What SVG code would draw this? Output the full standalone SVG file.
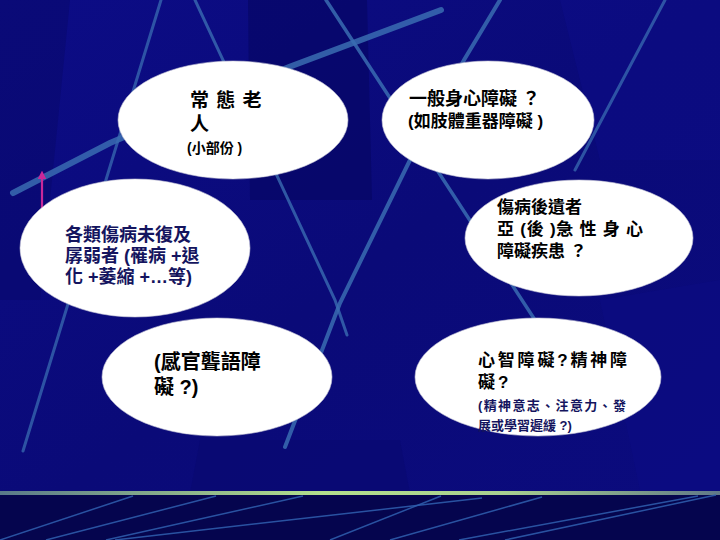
<svg xmlns="http://www.w3.org/2000/svg" width="720" height="540" viewBox="0 0 720 540">
<defs>
<linearGradient id="bg" x1="0" y1="0" x2="1" y2="1">
<stop offset="0" stop-color="#0c0c86"/>
<stop offset="0.5" stop-color="#0a0a78"/>
<stop offset="1" stop-color="#0b0b7e"/>
</linearGradient>
<linearGradient id="bar" x1="0" y1="0" x2="1" y2="0">
<stop offset="0" stop-color="#5a7a8a"/>
<stop offset="0.45" stop-color="#b4e08c"/>
<stop offset="0.7" stop-color="#a8d090"/>
<stop offset="1" stop-color="#607888"/>
</linearGradient>
<marker id="arr" viewBox="0 0 10 10" refX="5" refY="5" markerWidth="4" markerHeight="4" orient="auto">
<path d="M0,0 L10,5 L0,10 z" fill="#c8289a"/>
</marker>
<style>
.node ellipse{fill:#ffffff;stroke:#c8c8d8;stroke-width:0.6}
.t{font-family:"Liberation Sans","Noto Sans CJK TC",sans-serif;font-weight:bold;fill:#000000}
.n{fill:#14145e}
.s{stroke:#3a6cb2;fill:none;stroke-linecap:round}
.b{stroke:#3060b0;fill:none;stroke-width:1.5;opacity:0.85}
</style>
</defs>
<rect width="720" height="540" fill="url(#bg)"/>
<polygon points="248,0 367,0 372,200 250,200" fill="#05055e" opacity="0.55"/>
<polygon points="0,0 70,0 40,300 0,300" fill="#08086a" opacity="0.5"/>
<polygon points="560,0 720,0 720,160 600,160" fill="#0e0e90" opacity="0.35"/>
<polygon points="600,300 720,280 720,490 640,490" fill="#0c0c88" opacity="0.4"/>
<polygon points="200,440 400,440 410,493 190,493" fill="#08086c" opacity="0.4"/>
<g id="streaks">
<line class="s" x1="161" y1="0" x2="23" y2="451" stroke-width="3" opacity="0.75"/>
<polyline class="s" points="195,0 335,300 347,335" stroke-width="3" opacity="0.8"/>
<polyline class="s" points="441,10 289,67 110,143 13,193" stroke-width="6" opacity="0.85"/>
<line class="s" x1="326" y1="0" x2="535" y2="320" stroke-width="3.5" opacity="0.85"/>
<polyline class="s" points="500,0 464,60 410,160 340,303 285,447" stroke-width="4" opacity="0.85"/>
<line class="s" x1="665" y1="0" x2="575" y2="170" stroke-width="3" opacity="0.75"/>
</g>
<rect x="0" y="495" width="720" height="45" fill="#05054e"/>
<rect x="0" y="491" width="720" height="4" fill="url(#bar)"/>
<g id="bottom-lines">
<line class="b" x1="0" y1="540" x2="133" y2="496"/>
<line class="b" x1="46" y1="540" x2="216" y2="496"/>
<line class="b" x1="106" y1="540" x2="303" y2="496"/>
<line class="b" x1="115" y1="540" x2="482" y2="498"/>
<line class="b" x1="330" y1="540" x2="441" y2="496"/>
<line class="b" x1="390" y1="540" x2="542" y2="497"/>
<line class="b" x1="459" y1="540" x2="698" y2="496"/>
<line class="b" x1="505" y1="540" x2="716" y2="495"/>
</g>
<g id="connectors">
<line x1="42" y1="214" x2="42" y2="175" stroke="#c8289a" stroke-width="2.2" marker-end="url(#arr)"/>
</g>
<g id="node-normal-elderly" class="node">
<ellipse cx="233" cy="120" rx="115" ry="59"/>
<text class="t" x="190" y="107" font-size="19" letter-spacing="1">常 態 老</text>
<text class="t" x="190" y="131" font-size="19">人</text>
<text class="t" x="187" y="153" font-size="14" font-weight="normal">(小部份 )</text>
</g>
<g id="node-general-disability" class="node">
<ellipse cx="488" cy="120" rx="106" ry="59"/>
<text class="t" x="409" y="105" font-size="18">一般身心障礙 ？</text>
<text class="t" x="408" y="127" font-size="17">(如肢體重器障礙  )</text>
</g>
<g id="node-unrecovered" class="node">
<ellipse cx="135" cy="248" rx="115" ry="69"/>
<text class="t n" x="65" y="241" font-size="18">各類傷病未復及</text>
<text class="t n" x="65" y="262" font-size="18">孱弱者 (罹病 +退</text>
<text class="t n" x="65" y="283" font-size="18">化 +萎縮 +…等)</text>
</g>
<g id="node-sequelae" class="node">
<ellipse cx="579" cy="238" rx="114" ry="58"/>
<text class="t" x="497" y="213" font-size="17">傷病後遺者</text>
<text class="t" x="497" y="235" font-size="17" textLength="146" lengthAdjust="spacing">亞 (後 )急 性 身 心</text>
<text class="t" x="497" y="257" font-size="17">障礙疾患  ？</text>
</g>
<g id="node-sensory" class="node">
<ellipse cx="217" cy="377" rx="115" ry="59"/>
<text class="t" x="154" y="369" font-size="20">(感官聾語障</text>
<text class="t" x="154" y="394" font-size="20">礙 ?)</text>
</g>
<g id="node-mental" class="node">
<ellipse cx="538" cy="377" rx="123" ry="59"/>
<text class="t" x="478" y="366" font-size="17" textLength="149" lengthAdjust="spacing">心智障礙?精神障</text>
<text class="t" x="478" y="388" font-size="17" letter-spacing="3">礙?</text>
<text class="t n" x="478" y="410" font-size="13" textLength="148" lengthAdjust="spacing">(精神意志、注意力、發</text>
<text class="t n" x="478" y="430" font-size="13">展或學習遲緩  ?)</text>
</g>
</svg>
